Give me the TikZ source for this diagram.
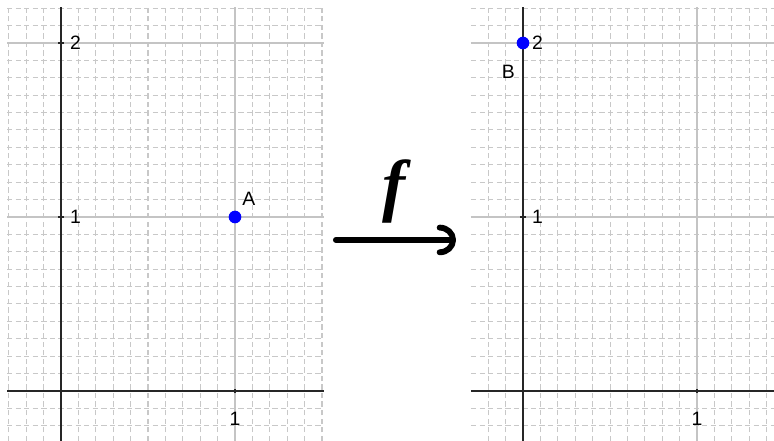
\documentclass[tikz,border=0pt]{standalone}
\usepackage{fontspec}
\setmainfont{Liberation Sans}
\newfontfamily\handfont{Liberation Serif}
\usepackage{xcolor}
\definecolor{gridmaj}{HTML}{C4C4C4}
\definecolor{gridmin}{HTML}{C8C8C8}
\definecolor{ptblue}{HTML}{0000FF}
\usepackage{tikz}
\usetikzlibrary{arrows.meta}
\tikzset{
  minorgrid/.style={draw=gridmin,line width=0.5pt,dash pattern=on 2.6pt off 1.6pt},
  majorgrid/.style={draw=gridmaj,line width=0.6pt},
  axisline/.style ={draw=black!85,line width=0.8pt},
  ticklbl/.style  ={font=\fontsize{9.5}{11}\selectfont,inner sep=0pt},
  ptdot/.style    ={circle,fill=ptblue,inner sep=0pt,minimum size=6.2pt},
  ptlbl/.style    ={font=\fontsize{9.5}{11}\selectfont,inner sep=0pt},
  maparrow/.style ={line width=2.9pt,line cap=round,
                    -{Arc Barb[length=8pt,width=15pt,round]}},
}

\begin{document}
\begin{tikzpicture}[x=3cm,y=3cm]
\useasboundingbox (-0.3506,-0.2874) rectangle (4.0977,2.2471);
%======================= LEFT: point A ==========================
\begin{scope}
\clip (-0.310,-0.2874) rectangle (1.511,2.207);
\foreach \i in {-3,...,15} \draw[minorgrid] (\i/10,-0.2874) -- (\i/10,2.207);
\foreach \j in {-2,...,22} \draw[minorgrid] (-0.310,\j/10) -- (1.511,\j/10);
\draw[majorgrid] (1,-0.2874) -- (1,2.207);
\foreach \j in {1,2} \draw[majorgrid] (-0.310,\j) -- (1.511,\j);
\draw[axisline] (-0.310,0) -- (1.511,0);
\draw[axisline] (0,-0.2874) -- (0,2.207);
\draw[axisline] (1,-0.013) -- (1,0.013);
\foreach \j in {1,2} \draw[axisline] (-0.015,\j) -- (0.015,\j);
\end{scope}
\node[ticklbl,anchor=west] (ly1) at (0.05,1) {1};
\node[ticklbl,anchor=west] (ly2) at (0.05,2) {2};
\node[ticklbl] (lx1) at (1,-0.158) {1};
\node[ptdot] (A) at (1,1) {};
\node[ptlbl] (Alab) at (1.080,1.103) {A};
%======================= MIDDLE: the map f ======================
\coordinate (fstart) at (1.580,0.868);
\coordinate (fend) at (2.270,0.868);
\draw[maparrow] (fstart) -- (fend);
\node[font=\handfont\bfseries\itshape\fontsize{34}{34}\selectfont,inner sep=0pt] (fname) at (1.914,1.149) {f};
%======================= RIGHT: point B =========================
\begin{scope}[shift={(2.6552,0)}]
\begin{scope}
\clip (-0.299,-0.2874) rectangle (1.4425,2.207);
\foreach \i in {-2,...,14} \draw[minorgrid] (\i/10,-0.2874) -- (\i/10,2.207);
\foreach \j in {-2,...,22} \draw[minorgrid] (-0.299,\j/10) -- (1.4425,\j/10);
\draw[majorgrid] (1,-0.2874) -- (1,2.207);
\foreach \j in {1,2} \draw[majorgrid] (-0.299,\j) -- (1.4425,\j);
\draw[axisline] (-0.299,0) -- (1.4425,0);
\draw[axisline] (0,-0.2874) -- (0,2.207);
\draw[axisline] (1,-0.013) -- (1,0.013);
\foreach \j in {1,2} \draw[axisline] (-0.015,\j) -- (0.015,\j);
\end{scope}
\node[ticklbl,anchor=west] (ry1) at (0.05,1) {1};
\node[ticklbl,anchor=west] (ry2) at (0.05,2) {2};
\node[ticklbl] (rx1) at (1,-0.16) {1};
\node[ptdot] (B) at (0,2) {};
\node[ptlbl] (Blab) at (-0.084,1.837) {B};
\end{scope}
\end{tikzpicture}
\end{document}
